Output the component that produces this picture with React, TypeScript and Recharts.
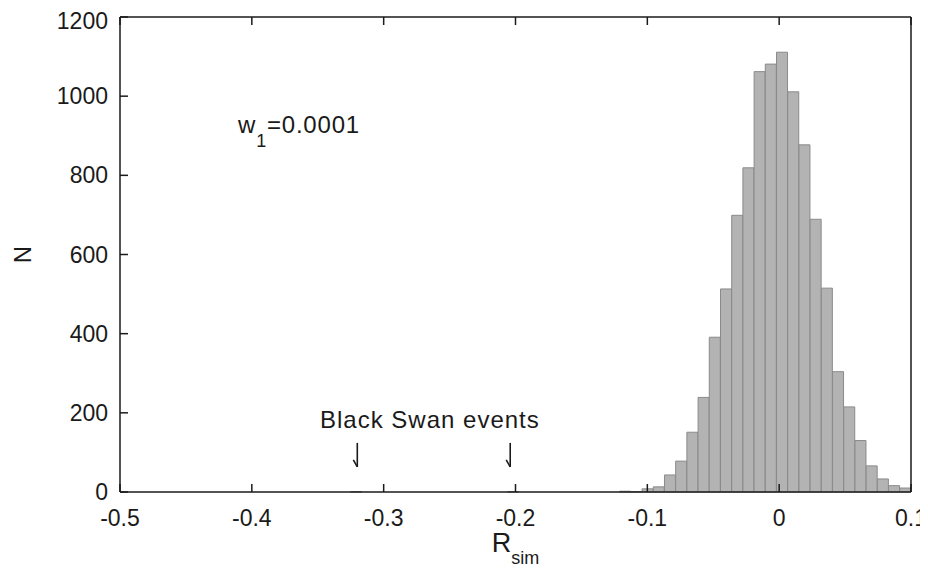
import { Bar, ComposedChart, ReferenceDot, XAxis, YAxis } from "recharts"

// histogram bins (bin width ~0.0085)
const binCenters = [
  -0.32075, -0.20175,
  -0.11675, -0.10825, -0.09975, -0.09125, -0.08275, -0.07425, -0.06575, -0.05725,
  -0.04875, -0.04025, -0.03175, -0.02325, -0.01475, -0.00625, 0.00225, 0.01075,
  0.01925, 0.02775, 0.03625, 0.04475, 0.05325, 0.06175, 0.07025, 0.07875,
  0.08725, 0.09575,
]
const counts = [
  1, 1,
  2, 1, 8, 13, 43, 78, 151, 239,
  391, 513, 699, 819, 1062, 1081, 1111, 1011,
  877, 689, 515, 304, 215, 130, 66, 33,
  16, 10,
]
const xTicks = [-0.5, -0.4, -0.3, -0.2, -0.1, 0, 0.1]
const yTicks = [0, 200, 400, 600, 800, 1000, 1200]
const swanArrows = [-0.32, -0.204]

const data = binCenters.map((x, i) => ({ x, n: counts[i] }))

const font = "'Liberation Sans', Arial, Helvetica, sans-serif"
const ink = "#1a1a1a"

const XTitle = (props: any) => {
  const { viewBox } = props
  return (
    <text x={viewBox.x + viewBox.width / 2} y={viewBox.y + 60} textAnchor="middle" fontFamily={font} fill={ink}>
      <tspan fontSize={27}>R</tspan>
      <tspan fontSize={18} dy={12}>sim</tspan>
    </text>
  )
}

const WNote = (props: any) => {
  const { viewBox } = props
  return (
    <text x={viewBox.x} y={viewBox.y} fontFamily={font} fill={ink} fontSize={24} letterSpacing={0.8}>
      <tspan>w</tspan>
      <tspan fontSize={18} dy={14}>1</tspan>
      <tspan dy={-14}>=0.0001</tspan>
    </text>
  )
}

const SwanNote = (props: any) => {
  const { viewBox } = props
  return (
    <text x={viewBox.x} y={viewBox.y} fontFamily={font} fill={ink} fontSize={24} letterSpacing={1}>
      Black Swan events
    </text>
  )
}

// thin down arrow with a half head, like the one in the figure
const Arrow = (props: any) => {
  const { x, y } = props.viewBox
  return (
    <g stroke={ink} strokeWidth={1.6} fill="none">
      <line x1={x} y1={y} x2={x} y2={y + 24} />
      <line x1={x - 4} y1={y + 17} x2={x} y2={y + 24} />
    </g>
  )
}

const App = () => {
  const tickStyle = { fill: ink, fontSize: 23, fontFamily: font }
  return (
    <ComposedChart
      width={920}
      height={562}
      data={data}
      margin={{ top: 8, right: 16, bottom: 0, left: 0 }}
      barCategoryGap={0}
      barGap={0}
    >
      <XAxis
        dataKey="x"
        type="number"
        domain={[-0.5, 0.1]}
        ticks={xTicks}
        allowDataOverflow
        height={78}
        tick={tickStyle}
        tickSize={-8}
        tickMargin={26}
        stroke={ink}
        strokeWidth={1.5}
        label={<XTitle />}
      />
      <XAxis
        xAxisId="top"
        orientation="top"
        dataKey="x"
        type="number"
        domain={[-0.5, 0.1]}
        ticks={xTicks}
        allowDataOverflow
        height={1}
        tickFormatter={() => ""}
        tickSize={-8}
        stroke={ink}
        strokeWidth={1.5}
      />
      <YAxis
        type="number"
        domain={[0, 1200]}
        ticks={yTicks}
        width={112}
        tick={tickStyle}
        tickSize={-8}
        tickMargin={20}
        stroke={ink}
        strokeWidth={1.5}
        label={{ value: "N", angle: -90, position: "insideLeft", offset: 14, fill: ink, fontSize: 24, fontFamily: font, style: { textAnchor: "middle" } }}
      />
      <YAxis
        yAxisId="right"
        orientation="right"
        type="number"
        domain={[0, 1200]}
        ticks={yTicks}
        width={1}
        tickFormatter={() => ""}
        tickSize={-8}
        stroke={ink}
        strokeWidth={1.5}
      />
      <Bar dataKey="n" fill="#b3b3b3" stroke="#8a8a8a" strokeWidth={1} isAnimationActive={false} />
      <ReferenceDot x={-0.4105} y={907} r={0} fill="none" stroke="none" label={<WNote />} />
      <ReferenceDot x={-0.3483} y={162} r={0} fill="none" stroke="none" label={<SwanNote />} />
      {swanArrows.map((x) => (
        <ReferenceDot key={x} x={x} y={124} r={0} fill="none" stroke="none" label={<Arrow />} />
      ))}
    </ComposedChart>
  )
}

export default App
